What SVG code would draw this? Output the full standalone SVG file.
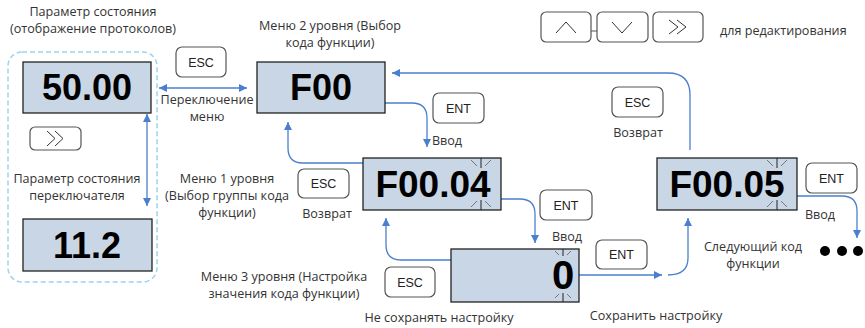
<svg xmlns="http://www.w3.org/2000/svg" width="865" height="328" viewBox="0 0 865 328">
<style>
.lbl{font-family:"Open Sans","Noto Sans",sans-serif;font-size:12.6px;fill:#333;text-anchor:middle}
.btn rect{fill:#fff;stroke:#555;stroke-width:1.2}
.btn text{font-family:"Liberation Sans",Arial,sans-serif;font-size:12.5px;fill:#222;text-anchor:middle}
.btn path{fill:none;stroke:#333;stroke-width:1}
.disp rect{fill:#c8d6e5;stroke:#222;stroke-width:1.3}
.disp text{font-family:"Liberation Sans",Arial,sans-serif;font-weight:bold;fill:#000;text-anchor:middle}
.conn path{fill:none;stroke:#4a7fd0;stroke-width:1.3}
.blink line{stroke:#777;stroke-width:1}
.blink line.v{stroke:#222}
</style>
<defs>
<marker id="ah" viewBox="0 0 8 8" refX="8" refY="4" markerWidth="8" markerHeight="8" markerUnits="userSpaceOnUse" orient="auto-start-reverse">
<path d="M0,0 L8,4 L0,8 z" fill="#4a7fd0"/>
</marker>
</defs>
<rect x="8" y="52" width="149" height="230" rx="14" fill="none" stroke="#9fd3f0" stroke-width="1.5" stroke-dasharray="5,3"/>
<g class="conn">
<path d="M159,88 L247,88" marker-start="url(#ah)" marker-end="url(#ah)"/>
<path d="M147,114 L147,206" marker-start="url(#ah)" marker-end="url(#ah)"/>
<path d="M385,103 L412,103 Q427,103 427,118 L427,147" marker-end="url(#ah)"/>
<path d="M363,163 L303,163 Q288,163 288,148 L288,122" marker-end="url(#ah)"/>
<path d="M501,199 L520,199 Q535,199 535,214 L535,243" marker-end="url(#ah)"/>
<path d="M451,260 L401,260 Q386,260 386,245 L386,218" marker-end="url(#ah)"/>
<path d="M579,275 L662,275" marker-end="url(#ah)"/>
<path d="M668,275 Q688,275 688,258 L688,218" marker-end="url(#ah)"/>
<path d="M690,150 L690,95 Q690,73 668,73 L392,73" marker-end="url(#ah)"/>
<path d="M797,196 L842,196 Q857,196 857,211 L857,238" marker-end="url(#ah)"/>
</g>
<g id="disp-5000" class="disp"><rect x="23" y="62" width="128" height="51"/><text x="87" y="100" font-size="36">50.00</text></g>
<g id="disp-112" class="disp"><rect x="23" y="219" width="129" height="52"/><text x="87" y="258" font-size="36">11.2</text></g>
<g id="disp-f00" class="disp"><rect x="257" y="62" width="128" height="51"/><text x="321" y="100" font-size="36">F00</text></g>
<g id="disp-f0004" class="disp"><rect x="363" y="158" width="138" height="52"/><text x="433" y="197" font-size="37">F00.04</text>
<g class="blink"><line class="v" x1="481" y1="158" x2="481" y2="168"/><line x1="471" y1="160" x2="477" y2="166"/><line x1="491" y1="160" x2="485" y2="166"/><line class="v" x1="481" y1="200" x2="481" y2="210"/><line x1="471" y1="207" x2="477" y2="201"/><line x1="491" y1="207" x2="485" y2="201"/></g></g>
<g id="disp-0" class="disp"><rect x="451" y="249" width="128" height="53"/><text x="563" y="289" font-size="40">0</text>
<g class="blink"><line class="v" x1="563" y1="249" x2="563" y2="256"/><line x1="555" y1="251" x2="559" y2="255"/><line x1="571" y1="251" x2="567" y2="255"/><line class="v" x1="563" y1="293" x2="563" y2="302"/><line x1="555" y1="298" x2="559" y2="294"/><line x1="571" y1="298" x2="567" y2="294"/></g></g>
<g id="disp-f0005" class="disp"><rect x="657" y="158" width="140" height="52"/><text x="727" y="197" font-size="37">F00.05</text>
<g class="blink"><line class="v" x1="777" y1="158" x2="777" y2="168"/><line x1="767" y1="160" x2="773" y2="166"/><line x1="787" y1="160" x2="781" y2="166"/><line class="v" x1="777" y1="200" x2="777" y2="210"/><line x1="767" y1="207" x2="773" y2="201"/><line x1="787" y1="207" x2="781" y2="201"/></g></g>
<g id="btn-esc1" class="btn"><rect x="176" y="47" width="50" height="30" rx="6"/><text x="201" y="67">ESC</text></g>
<g id="btn-ent1" class="btn"><rect x="433" y="93" width="51" height="30" rx="6"/><text x="458.5" y="113">ENT</text></g>
<g id="btn-esc2" class="btn"><rect x="298" y="169" width="51" height="29" rx="6"/><text x="323.5" y="188">ESC</text></g>
<g id="btn-ent2" class="btn"><rect x="540" y="190" width="52" height="30" rx="6"/><text x="566" y="210">ENT</text></g>
<g id="btn-esc3" class="btn"><rect x="385" y="267" width="50" height="30" rx="6"/><text x="410" y="287">ESC</text></g>
<g id="btn-ent3" class="btn"><rect x="596" y="240" width="51" height="29" rx="6"/><text x="621.5" y="259">ENT</text></g>
<g id="btn-esc4" class="btn"><rect x="612" y="87" width="51" height="30" rx="6"/><text x="637.5" y="107">ESC</text></g>
<g id="btn-ent4" class="btn"><rect x="806" y="163" width="51" height="30" rx="6"/><text x="831.5" y="183">ENT</text></g>
<g id="btn-shift1" class="btn"><rect x="30" y="127" width="51" height="23" rx="5"/><path d="M47,131 L55,138.5 L47,146 M55,131 L63,138.5 L55,146"/></g>
<g id="btn-up" class="btn"><rect x="541" y="12" width="50" height="30" rx="5"/><path d="M556,33 L566,22 L576,33"/></g>
<g id="btn-down" class="btn"><rect x="597" y="12" width="51" height="30" rx="5"/><path d="M612,22 L622,33 L632,22"/></g>
<g id="btn-shift2" class="btn"><rect x="653" y="12" width="50" height="30" rx="5"/><path d="M669,20 L678,27 L669,34 M677,20 L686,27 L677,34"/></g>
<line x1="591" y1="31" x2="597" y2="31" stroke="#555" stroke-width="1"/>
<g id="labels">
<text class="lbl" x="93" y="16">Параметр состояния</text>
<text class="lbl" x="93" y="33">(отображение протоколов)</text>
<text class="lbl" x="330" y="30">Меню 2 уровня (Выбор</text>
<text class="lbl" x="330" y="47">кода функции)</text>
<text class="lbl" x="207" y="104">Переключение</text>
<text class="lbl" x="207" y="121">меню</text>
<text class="lbl" x="447" y="145">Ввод</text>
<text class="lbl" x="638" y="137">Возврат</text>
<text class="lbl" x="77" y="183">Параметр состояния</text>
<text class="lbl" x="77" y="200">переключателя</text>
<text class="lbl" x="227" y="183">Меню 1 уровня</text>
<text class="lbl" x="227" y="200">(Выбор группы кода</text>
<text class="lbl" x="227" y="217">функции)</text>
<text class="lbl" x="327" y="218">Возврат</text>
<text class="lbl" x="567" y="241">Ввод</text>
<text class="lbl" x="820" y="219">Ввод</text>
<text class="lbl" x="753" y="251">Следующий код</text>
<text class="lbl" x="753" y="268">функции</text>
<text class="lbl" x="284" y="281">Меню 3 уровня (Настройка</text>
<text class="lbl" x="284" y="298">значения кода функции)</text>
<text class="lbl" x="439" y="322">Не сохранять настройку</text>
<text class="lbl" x="656" y="320">Сохранить настройку</text>
<text class="lbl" x="720" y="35" style="text-anchor:start">для редактирования</text>
</g>
<g id="dots" fill="#000"><circle cx="825" cy="251" r="5"/><circle cx="842" cy="251" r="5"/><circle cx="858" cy="251" r="5"/></g>
</svg>
